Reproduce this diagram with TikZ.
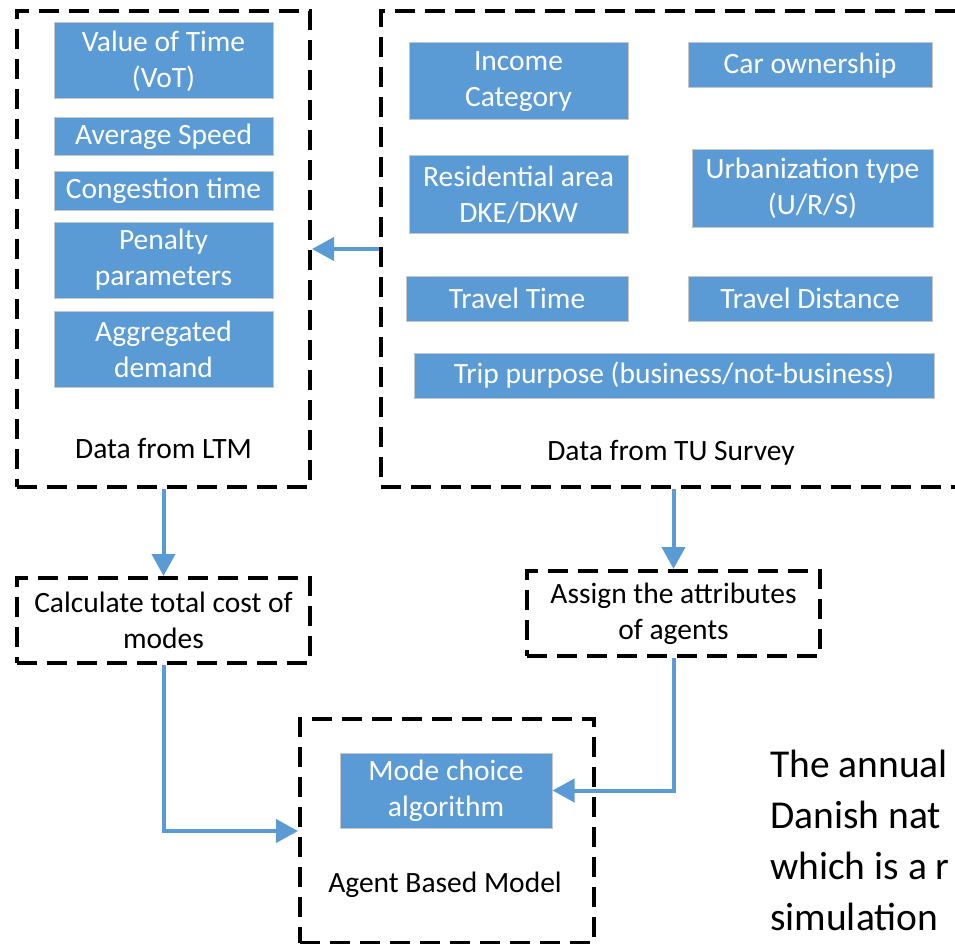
\documentclass[tikz,border=0pt]{standalone}
\usepackage{fontspec}
\setmainfont{Carlito}
\usetikzlibrary{arrows.meta}
\definecolor{officeblue}{HTML}{5B9BD5}
\newcommand{\boxfont}{\fontsize{29.5}{36}\selectfont}
\newcommand{\notefont}{\fontsize{39.5}{51}\selectfont}

\begin{document}
\begin{tikzpicture}[x=1pt,y=-1pt,
item/.style={fill=officeblue,draw=gray!45,line width=1pt,text=white,align=center,inner sep=0pt,font=\boxfont},
frame/.style={draw=black,line width=4pt,dash pattern=on 20pt off 10pt,inner sep=0pt},
flow/.style={draw=officeblue,line width=4pt,-{Triangle[length=22pt,width=23pt]}},
caption/.style={font=\boxfont,align=center}]
\useasboundingbox (0,0) rectangle (955,944);

% The dashed frames
\node[frame,minimum width=293pt,minimum height=476pt] (ltm) at (163.5,249) {};
\node[frame,minimum width=604pt,minimum height=476pt] (tu) at (683,249) {};
\node[frame,minimum width=293pt,minimum height=85pt,caption] (calc) at (163.5,620.5) {Calculate total cost of\\modes};
\node[frame,minimum width=293pt,minimum height=85pt,caption] (assign) at (673.5,613.5) {Assign the attributes\\of agents};
\node[frame,minimum width=294pt,minimum height=224pt] (abm) at (447,831) {};

% Data from LTM
\node[item,minimum width=219pt,minimum height=76pt] (vot) at (163.5,61) {Value of Time\\(VoT)};
\node[item,minimum width=219pt,minimum height=38pt] (speed) at (163.5,137) {Average Speed};
\node[item,minimum width=219pt,minimum height=38pt] (congestion) at (163.5,191) {Congestion time};
\node[item,minimum width=219pt,minimum height=76pt] (penalty) at (163.5,260) {Penalty\\parameters};
\node[item,minimum width=219pt,minimum height=76pt] (demand) at (163.5,349) {Aggregated\\demand};
\node[caption] (ltmlabel) at (163.5,448) {Data from LTM};

% Data from TU Survey
\node[item,minimum width=219pt,minimum height=77pt] (income) at (518.5,81.5) {Income\\Category};
\node[item,minimum width=244pt,minimum height=45pt] (car) at (810,65.5) {Car ownership};
\node[item,minimum width=219pt,minimum height=77pt] (residence) at (518.5,194.5) {Residential area\\DKE/DKW};
\node[item,minimum width=241pt,minimum height=77pt] (urban) at (812.5,188.5) {Urbanization type\\(U/R/S)};
\node[item,minimum width=222pt,minimum height=45pt] (ttime) at (517,298.5) {Travel Time};
\node[item,minimum width=244pt,minimum height=45pt] (tdist) at (810,298.5) {Travel Distance};
\node[item,minimum width=520pt,minimum height=45pt] (purpose) at (674,375.5) {Trip purpose (business/not-business)};
\node[caption] (tulabel) at (671,453) {Data from TU Survey};

% Agent Based Model
\node[item,minimum width=212pt,minimum height=75pt] (mode) at (446,790.5) {Mode choice\\algorithm};
\node[caption] (abmlabel) at (445,885) {Agent Based Model};

% The arrows
\draw[flow] (tu.west) -- (ltm.east);
\draw[flow] (ltm.south) -- (calc.north);
\draw[flow] (assign.north |- tu.south) -- (assign.north);
\draw[flow] (calc.south) |- (abm.west);
\draw[flow] (assign.south) |- (mode.east);

% The text on the right
\foreach \txt [count=\i] in {The annual,Danish nat,which is a r,simulation}
  \node[font=\notefont,anchor=base west,inner sep=0pt] (note\i) at (770,{777+51*(\i-1)}) {\txt};
\end{tikzpicture}
\end{document}
